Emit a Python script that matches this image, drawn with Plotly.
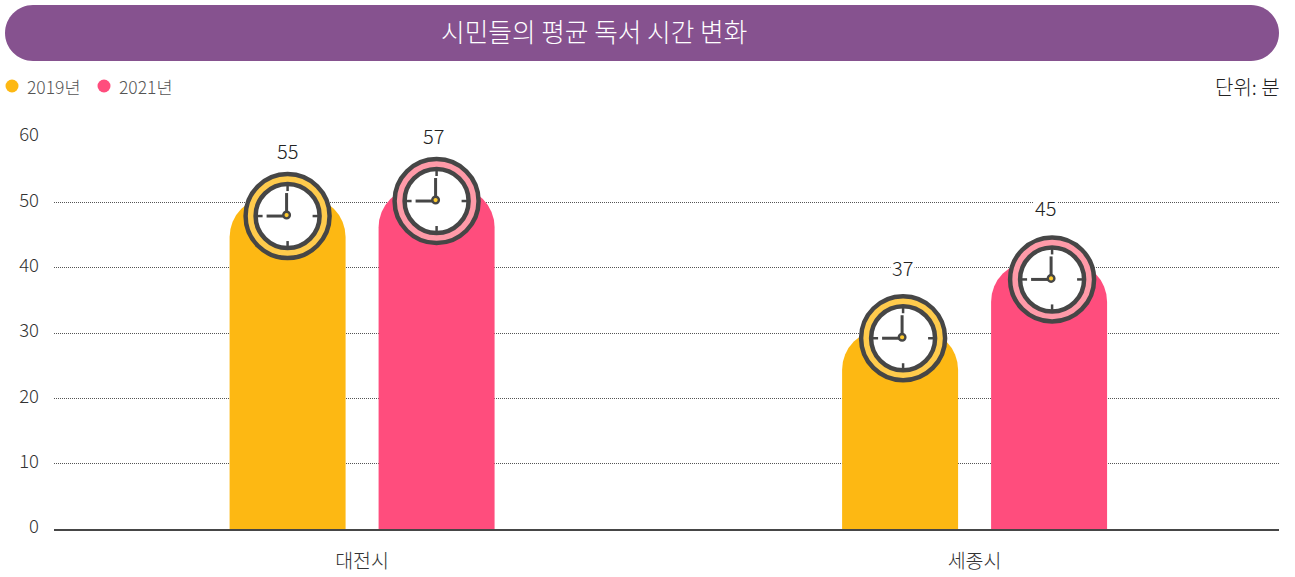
import plotly.graph_objects as go

cities = ["대전시", "세종시"]
years = ["2019년", "2021년"]
tick_values = [0, 10, 20, 30, 40, 50, 60]

# printed numbers
labels_2019 = [55, 37]
labels_2021 = [57, 45]
# the drawn bars stop lower than the printed numbers
heights_2019 = [50.8, 30.5]
heights_2021 = [52.3, 40.9]
# clock centres, read against the y axis
clocks_2019 = [47.9, 29.2]
clocks_2021 = [50.2, 38.2]

YELLOW = "#fdb813"
PINK = "#ff4d7d"
RING_YELLOW = "#ffcb4c"
RING_PINK = "#ff9aa8"
DARK = "#464646"
FONT = "Noto Sans CJK KR"
WEIGHT = 300

W, H = 1295, 577
LEFT, RIGHT, TOP, BOTTOM = 54, 1279, 137, 529


def paper_x(px):
    return (px - LEFT) / (RIGHT - LEFT)


def paper_y(py):
    return (BOTTOM - py) / (BOTTOM - TOP)


fig = go.Figure()
for name, heights, color in [(years[0], heights_2019, YELLOW), (years[1], heights_2021, PINK)]:
    fig.add_trace(
        go.Bar(name=name, x=cities, y=heights, marker=dict(color=color, cornerradius=40, line=dict(width=0)))
    )


def px_circle(x, y, r, fill, line_width=0, dx=0, dy=0):
    return dict(
        type="circle", xref="x", yref="y", xsizemode="pixel", ysizemode="pixel",
        xanchor=x, yanchor=y,
        x0=dx - r, x1=dx + r, y0=dy - r, y1=dy + r,
        fillcolor=fill, line=dict(color=DARK, width=line_width),
    )


def px_line(x, y, x0, y0, x1, y1, width):
    return dict(
        type="line", xref="x", yref="y", xsizemode="pixel", ysizemode="pixel",
        xanchor=x, yanchor=y, x0=x0, x1=x1, y0=y0, y1=y1,
        line=dict(color=DARK, width=width),
    )


def add_clock(x, y, ring):
    shapes = [px_circle(x, y, 42, ring, 4.5), px_circle(x, y, 32, "white", 4.5)]
    shapes += [
        px_line(x, y, 0, 25, 0, 31, 2.5),
        px_line(x, y, 0, -25, 0, -31, 2.5),
        px_line(x, y, 25, 0, 31, 0, 2.5),
        px_line(x, y, -25, 0, -31, 0, 2.5),
        px_line(x, y, -1, 1, -1, 23, 3),
        px_line(x, y, -1, 0, -21, 0, 3),
        px_circle(x, y, 3.3, "#ffcb2e", 2.4, dx=-1, dy=1),
    ]
    for s in shapes:
        fig.add_shape(**s)


bar_shift = 74.5 / 612.5
# second group's clocks sit a little to the right of their bars
nudge = [0, 3 / 612.5]
annotations = []
for i in range(2):
    add_clock(i - bar_shift + nudge[i], clocks_2019[i], RING_YELLOW)
    add_clock(i + bar_shift + nudge[i], clocks_2021[i], RING_PINK)

label_shift_2019 = [(0, 66), (-1, 71)]
label_shift_2021 = [(-3, 66), (-7, 72)]
for i in range(2):
    for value, clock, sign, shift in [
        (labels_2019[i], clocks_2019[i], -1, label_shift_2019[i]),
        (labels_2021[i], clocks_2021[i], 1, label_shift_2021[i]),
    ]:
        annotations.append(
            dict(
                x=i + sign * bar_shift + nudge[i], y=clock, text=str(value), showarrow=False,
                xshift=shift[0], yshift=shift[1], bgcolor="white", borderpad=1,
                font=dict(family=FONT, size=20, color="#222222", weight=WEIGHT),
            )
        )

# title band
x0, x1, y0, y1, r = 5 - LEFT, 1279 - LEFT, TOP - 5, TOP - 61, 28
k = r * 0.5523
fig.add_shape(
    type="path", xref="paper", yref="paper", xsizemode="pixel", ysizemode="pixel",
    xanchor=0, yanchor=1,
    path=(
        f"M {x0 + r} {y0} L {x1 - r} {y0} "
        f"C {x1 - r + k} {y0} {x1} {y0 - r + k} {x1} {y0 - r} "
        f"C {x1} {y1 + r - k} {x1 - r + k} {y1} {x1 - r} {y1} "
        f"L {x0 + r} {y1} "
        f"C {x0 + r - k} {y1} {x0} {y1 + r - k} {x0} {y1 + r} "
        f"C {x0} {y0 - r + k} {x0 + r - k} {y0} {x0 + r} {y0} Z"
    ),
    fillcolor="#86528f", line=dict(width=0),
)

annotations.append(
    dict(
        xref="paper", yref="paper", x=paper_x(594), y=paper_y(31), xanchor="center", yanchor="middle",
        text="시민들의 평균 독서 시간 변화",
        showarrow=False, font=dict(family=FONT, size=25.7, color="white", weight=WEIGHT),
    )
)
annotations.append(
    dict(
        xref="paper", yref="paper", x=1, y=paper_y(86), xanchor="right", yanchor="middle", xshift=3, text="단위: 분",
        showarrow=False, font=dict(family=FONT, size=20, color="#222222", weight=WEIGHT),
    )
)
for name, color, dot_x, text_x in [(years[0], YELLOW, 12, 27), (years[1], PINK, 104, 119)]:
    fig.add_shape(
        type="circle", xref="paper", yref="paper", xsizemode="pixel", ysizemode="pixel",
        xanchor=0, yanchor=1, x0=dot_x - 6.5 - LEFT, x1=dot_x + 6.5 - LEFT,
        y0=TOP - 86 + 6.5, y1=TOP - 86 - 6.5, fillcolor=color, line=dict(width=0),
    )
    annotations.append(
        dict(
            xref="paper", yref="paper", x=paper_x(text_x), y=paper_y(86), xanchor="left", yanchor="middle",
            xshift=-2, text=name,
            showarrow=False, font=dict(family=FONT, size=17.5, color="#555555", weight=WEIGHT),
        )
    )

fig.update_layout(
    width=W,
    height=H,
    margin=dict(l=LEFT, r=W - RIGHT, t=TOP, b=H - BOTTOM, pad=0),
    paper_bgcolor="white",
    plot_bgcolor="white",
    showlegend=False,
    barmode="group",
    bargap=0.5135,
    bargroupgap=0.2215,
    font=dict(family=FONT, color="#333333", size=18, weight=WEIGHT),
    annotations=annotations,
)
fig.update_xaxes(
    range=[-0.503, 1.497], showgrid=False, showline=True, linecolor=DARK, linewidth=2, ticks="",
    automargin=False, ticklabelstandoff=14, tickfont=dict(size=19.5, color="#333333", weight=WEIGHT),
)
fig.update_yaxes(
    range=[0, 60], tickvals=tick_values, gridcolor="#555555", griddash="1px,1px", gridwidth=1, zeroline=False,
    automargin=False, ticklabelstandoff=14, ticklabelshift=-2, tickfont=dict(size=18.5, color="#333333", weight=WEIGHT),
)

fig.write_html("out.html", config=dict(displayModeBar=False), post_script="document.body.style.margin='0';")
